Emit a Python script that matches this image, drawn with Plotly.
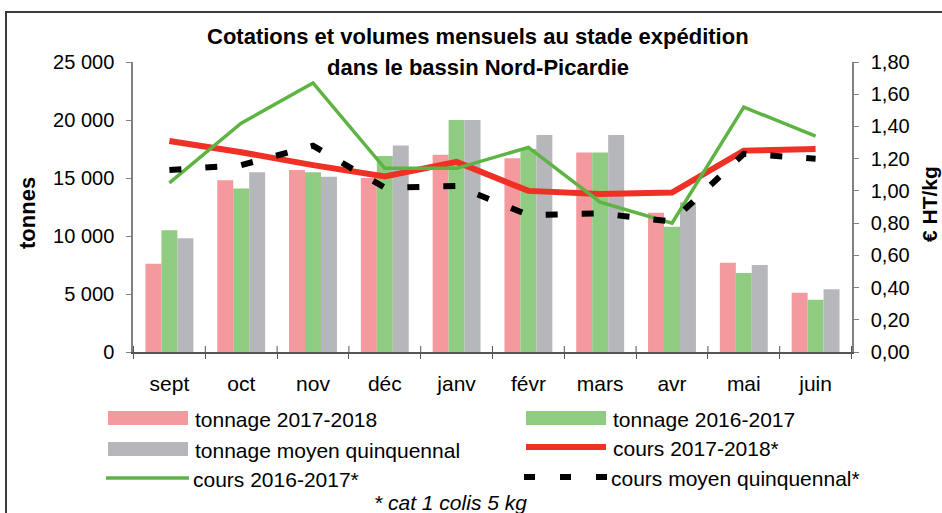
import plotly.graph_objects as go

months = ["sept", "oct", "nov", "déc", "janv", "févr", "mars", "avr", "mai", "juin"]

tonnage_2017_2018 = [7600, 14800, 15700, 15000, 17000, 16700, 17200, 12000, 7700, 5100]
tonnage_2016_2017 = [10500, 14100, 15500, 16900, 20000, 17500, 17200, 10800, 6800, 4500]
tonnage_moyen = [9800, 15500, 15100, 17800, 20000, 18700, 18700, 12900, 7500, 5400]

cours_2017_2018 = [1.31, 1.24, 1.16, 1.09, 1.18, 1.00, 0.98, 0.99, 1.25, 1.26]
cours_2016_2017 = [1.05, 1.42, 1.67, 1.14, 1.14, 1.27, 0.93, 0.80, 1.52, 1.34]
cours_moyen = [1.13, 1.16, 1.28, 1.02, 1.03, 0.85, 0.86, 0.81, 1.23, 1.20]

y_left_ticks = [0, 5000, 10000, 15000, 20000, 25000]
y_right_ticks = [0.0, 0.2, 0.4, 0.6, 0.8, 1.0, 1.2, 1.4, 1.6, 1.8]

PINK = "#F4999D"
GREEN_BAR = "#8FCB80"
GRAY = "#B6B7BB"
RED = "#EE3124"
GREEN_LINE = "#5DB443"
BLACK = "#000000"
AXIS = "#808080"
FONT = "Liberation Sans, Arial, sans-serif"

W, H = 942, 513
L, R, T, B = 133, 90, 62, 161
PW, PH = W - L - R, H - T - B


def xp(px):
    return (px - L) / PW


def yp(py):
    return (H - B - py) / PH


fig = go.Figure()
fig.add_trace(go.Bar(x=months, y=tonnage_2017_2018, name="tonnage 2017-2018",
                     marker=dict(color=PINK, line=dict(width=0))))
fig.add_trace(go.Bar(x=months, y=tonnage_2016_2017, name="tonnage 2016-2017",
                     marker=dict(color=GREEN_BAR, line=dict(width=0))))
fig.add_trace(go.Bar(x=months, y=tonnage_moyen, name="tonnage moyen quinquennal",
                     marker=dict(color=GRAY, line=dict(width=0))))
fig.add_trace(go.Scatter(x=months, y=cours_2017_2018, name="cours 2017-2018*", yaxis="y2",
                         mode="lines", line=dict(color=RED, width=6)))
fig.add_trace(go.Scatter(x=months, y=cours_2016_2017, name="cours 2016-2017*", yaxis="y2",
                         mode="lines", line=dict(color=GREEN_LINE, width=3.5)))
fig.add_trace(go.Scatter(x=months, y=cours_moyen, name="cours moyen quinquennal*", yaxis="y2",
                         mode="lines", line=dict(color=BLACK, width=6, dash="12px,24px")))

shapes = []
annotations = []

# frame
shapes.append(dict(type="rect", xref="paper", yref="paper",
                   x0=xp(6), x1=xp(980), y0=yp(560), y1=yp(12),
                   line=dict(color="#3a3a3a", width=2), fillcolor="rgba(0,0,0,0)", layer="below"))

# upward half of the crossing category ticks
for i in range(len(months) + 1):
    shapes.append(dict(type="line", xref="x", yref="paper", x0=i - 0.5, x1=i - 0.5,
                       y0=0, y1=6 / PH, line=dict(color="#555555", width=1)))

# title
annotations.append(dict(text="<b>Cotations et volumes mensuels au stade expédition</b>",
                        xref="paper", yref="paper", x=xp(478), y=yp(37),
                        xanchor="center", yanchor="middle", showarrow=False,
                        font=dict(family=FONT, size=22, color="black")))
annotations.append(dict(text="<b>dans le bassin Nord-Picardie</b>",
                        xref="paper", yref="paper", x=xp(478), y=yp(67),
                        xanchor="center", yanchor="middle", showarrow=False,
                        font=dict(family=FONT, size=22, color="black")))

# axis titles
annotations.append(dict(text="<b>tonnes</b>", xref="paper", yref="paper",
                        x=xp(27), y=yp(213), textangle=-90, showarrow=False,
                        xanchor="center", yanchor="middle",
                        font=dict(family=FONT, size=22, color="black")))
annotations.append(dict(text="<b>€ HT/kg</b>", xref="paper", yref="paper",
                        x=xp(929), y=yp(204), textangle=-90, showarrow=False,
                        xanchor="center", yanchor="middle",
                        font=dict(family=FONT, size=21, color="black")))

# custom legend
legend_rows = [
    ("rect", PINK, "tonnage 2017-2018", 108, 418),
    ("rect", GREEN_BAR, "tonnage 2016-2017", 526, 418),
    ("rect", GRAY, "tonnage moyen quinquennal", 108, 449),
    ("line", RED, "cours 2017-2018*", 526, 447),
    ("thin", GREEN_LINE, "cours 2016-2017*", 106, 478),
    ("dash", BLACK, "cours moyen quinquennal*", 524, 477),
]
for kind, color, label, x0, yc in legend_rows:
    x1 = x0 + 80
    if kind == "rect":
        shapes.append(dict(type="rect", xref="paper", yref="paper",
                           x0=xp(x0), x1=xp(x1), y0=yp(yc + 7), y1=yp(yc - 7),
                           fillcolor=color, line=dict(width=0)))
    elif kind == "line":
        shapes.append(dict(type="line", xref="paper", yref="paper",
                           x0=xp(x0), x1=xp(x1), y0=yp(yc), y1=yp(yc),
                           line=dict(color=color, width=6)))
    elif kind == "thin":
        shapes.append(dict(type="line", xref="paper", yref="paper",
                           x0=xp(x0), x1=xp(x1 + 3), y0=yp(yc), y1=yp(yc),
                           line=dict(color=color, width=3.5)))
    else:
        shapes.append(dict(type="line", xref="paper", yref="paper",
                           x0=xp(x0), x1=xp(x1 + 4), y0=yp(yc), y1=yp(yc),
                           line=dict(color=color, width=6, dash="11px,25px")))
    annotations.append(dict(text=label, xref="paper", yref="paper",
                            x=xp(x1 + 5), y=yp(yc + 1), xanchor="left", yanchor="middle",
                            showarrow=False, font=dict(family=FONT, size=21, color="black")))

annotations.append(dict(text="<i>* cat 1 colis 5 kg</i>", xref="paper", yref="paper",
                        x=xp(450), y=yp(502), xanchor="center", yanchor="middle",
                        showarrow=False, font=dict(family=FONT, size=21, color="black")))

fig.update_layout(
    width=W, height=H,
    margin=dict(l=L, r=R, t=T, b=B, pad=0),
    paper_bgcolor="white", plot_bgcolor="white",
    barmode="group", bargap=0.333, bargroupgap=0,
    showlegend=False,
    separators=", ",
    font=dict(family=FONT, size=20, color="black"),
    xaxis=dict(type="category", showgrid=False, showline=True, linecolor="#555555", linewidth=1.5,
               ticks="outside", tickson="boundaries", ticklen=5, tickcolor="#555555",
               tickfont=dict(size=21), ticklabelstandoff=12, zeroline=False),
    yaxis=dict(range=[0, 25000], tickvals=y_left_ticks, tickformat=",d", showgrid=False,
               showline=True, linecolor=AXIS, linewidth=1.5, ticks="outside", ticklen=5,
               tickcolor=AXIS, zeroline=False, ticklabelstandoff=8),
    yaxis2=dict(range=[0, 1.8], tickvals=y_right_ticks, tickformat=".2f", overlaying="y",
                side="right", showgrid=False, showline=True, linecolor=AXIS, linewidth=1.5,
                ticks="outside", ticklen=5, tickcolor=AXIS, zeroline=False, ticklabelstandoff=8),
    shapes=shapes,
    annotations=annotations,
)

fig.write_html("out.html", config={"displayModeBar": False},
               post_script="document.body.style.margin='0';document.body.style.overflow='hidden';")
